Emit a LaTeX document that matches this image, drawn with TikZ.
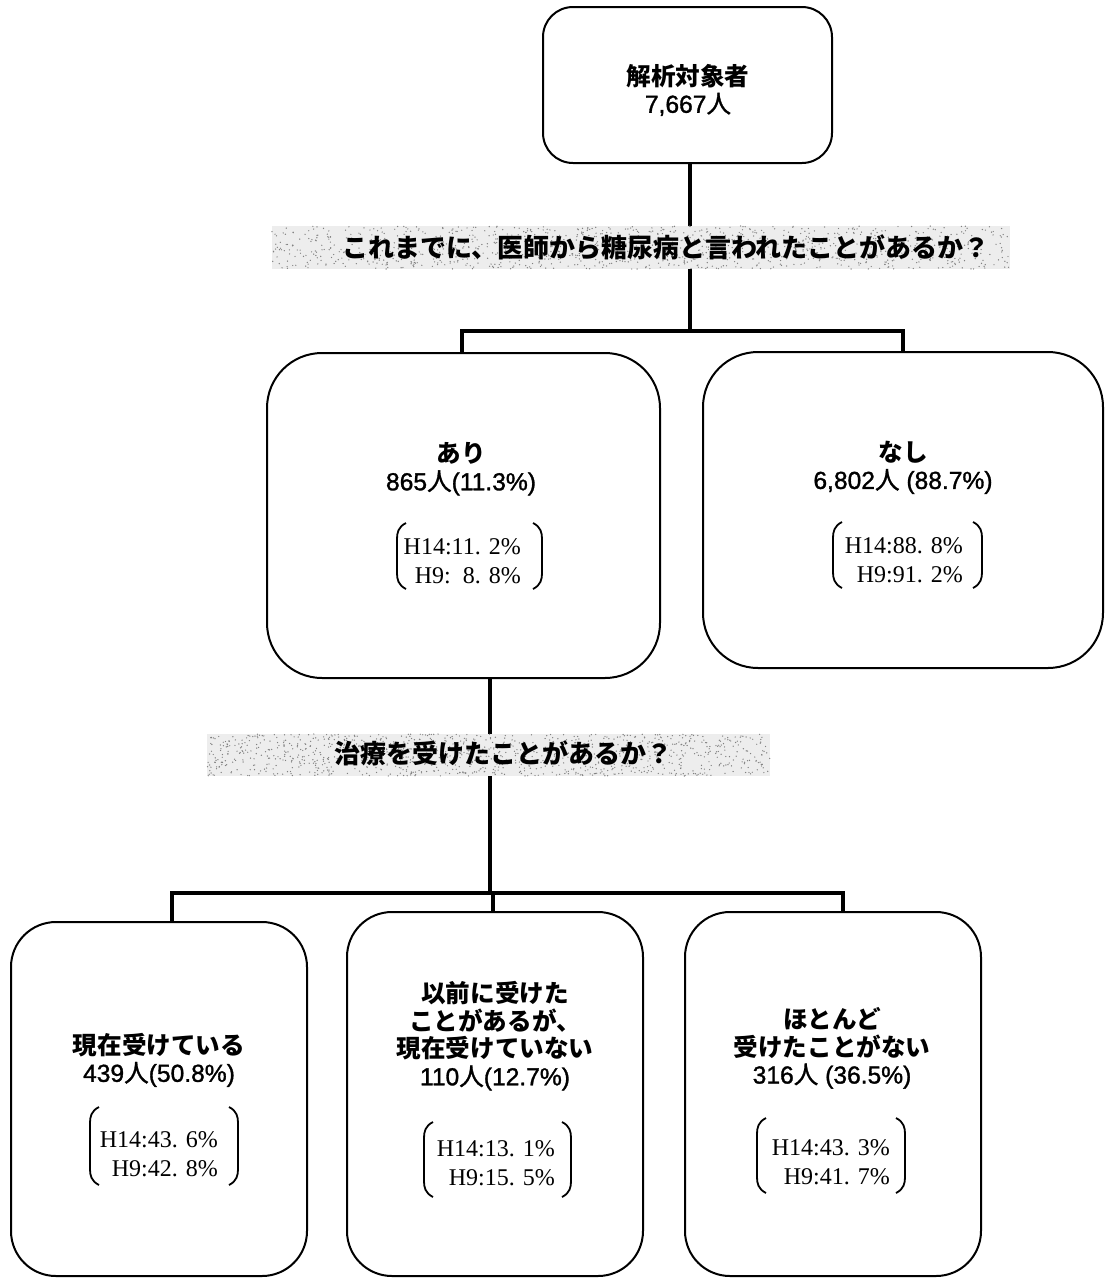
\documentclass[tikz,border=0pt]{standalone}
\usepackage{fontspec}
\newfontfamily\jp{Noto Sans CJK JP}
\newfontfamily\jpm{Noto Sans CJK JP}[FakeBold=1.3]
\newfontfamily\lat{Liberation Sans}[FakeBold=1.3]
\newfontfamily\ser{Liberation Serif}
\newcommand\nm[1]{{\lat\mdseries #1}}
\newcommand\ppl{{\jpm\mdseries 人}}
\newcommand\brk[4]{%
 \draw[brkline] (#1+9,#3) .. controls (#1+1,#3+4) and (#1,#3+10) .. (#1,#3+16) -- (#1,#4-16) .. controls (#1,#4-10) and (#1+1,#4-4) .. (#1+9,#4);
 \draw[brkline] (#2-9,#3) .. controls (#2-1,#3+4) and (#2,#3+10) .. (#2,#3+16) -- (#2,#4-16) .. controls (#2,#4-10) and (#2-1,#4-4) .. (#2-9,#4);}
\newcommand\band[4]{%
 \fill[black!7] (#1,#3) rectangle (#2,#4);
 \foreach \i in {1,...,1100}{\pgfmathsetmacro\xx{#1+(#2-#1)*rnd}\pgfmathsetmacro\yy{#3+(#4-#3)*rnd}\fill[black!50] (\xx,\yy) circle (0.7);}}
\begin{document}
\begin{tikzpicture}[x=1pt,y=-1pt,
  rbox/.style={draw, line width=2pt, inner sep=0pt},
  conn/.style={line width=3.5pt},
  brkline/.style={line width=1.8pt},
  lbl/.style={font=\jp\bfseries\fontsize{24.6}{27.5}\selectfont, align=center, inner sep=0pt},
  qlbl/.style={font=\jp\bfseries\fontsize{26}{30}\selectfont, inner sep=0pt},
  pct/.style={font=\ser\fontsize{24}{29.5}\selectfont, align=right, inner sep=0pt, anchor=east}]
\useasboundingbox (0,0) rectangle (1105,1278);
\fill[white] (0,0) rectangle (1105,1278);
% boxes
\node[rbox, rounded corners=30, minimum width=289, minimum height=156] (top) at (687.5,85) {};
\node[rbox, rounded corners=55, minimum width=393, minimum height=325] (yes) at (463.5,515.5) {};
\node[rbox, rounded corners=55, minimum width=400, minimum height=316] (no) at (903,510) {};
\node[rbox, rounded corners=45, minimum width=296, minimum height=354] (b1) at (159,1099) {};
\node[rbox, rounded corners=45, minimum width=296, minimum height=364] (b2) at (495,1094) {};
\node[rbox, rounded corners=45, minimum width=296, minimum height=364] (b3) at (833,1094) {};
% junctions
\coordinate (j1) at (690,331);
\coordinate (j1L) at (462,331);
\coordinate (j1R) at (903,331);
\coordinate (j2) at (490,893);
\coordinate (j2L) at (172,893);
\coordinate (j2M) at (493,893);
\coordinate (j2R) at (843,893);
% connectors
\draw[conn] (top.south -| j1) -- (j1);
\draw[conn] ([xshift=-1.75pt]j1L) -- ([xshift=1.75pt]j1R);
\draw[conn] (j1L) -- (yes.north -| j1L);
\draw[conn] (j1R) -- (no.north -| j1R);
\draw[conn] (yes.south -| j2) -- (j2);
\draw[conn] ([xshift=-1.75pt]j2L) -- ([xshift=1.75pt]j2R);
\draw[conn] (j2L) -- (b1.north -| j2L);
\draw[conn] (j2M) -- (b2.north -| j2M);
\draw[conn] (j2R) -- (b3.north -| j2R);
% question bands
\pgfmathsetseed{7}
\band{272}{1010}{226}{269}
\band{207}{770}{734}{776}
\node[qlbl] (q1) at (666,247) {これまでに、医師から糖尿病と言われたことがあるか？};
\node[qlbl] (q2) at (503,753) {治療を受けたことがあるか？};
% texts
\node[lbl] (toptext) at (688,90) {解析対象者\\\nm{7,667}\ppl};
\node[lbl] (yestext) at (461,469) {あり\\\nm{865}\ppl\nm{(11.3\%)}};
\node[lbl] (notext) at (903,467.5) {なし\\\nm{6,802}\ppl\nm{ (88.7\%)}};
\node[lbl] (b1text) at (159,1060) {現在受けている\\\nm{439}\ppl\nm{(50.8\%)}};
\node[lbl] (b2text) at (495,1036) {以前に受けた\\ことがあるが、\\現在受けていない\\\nm{110}\ppl\nm{(12.7\%)}};
\node[lbl] (b3text) at (832,1048) {ほとんど\\受けたことがない\\\nm{316}\ppl\nm{ (36.5\%)}};
% percentage brackets
\node[pct] (yespct) at (521,561) {H14:11. 2\%\\H9:\ \ 8. 8\%};
\brk{397}{542}{523}{589}
\node[pct] (nopct) at (963,560) {H14:88. 8\%\\H9:91. 2\%};
\brk{833}{982}{522}{588}
\node[pct] (b1pct) at (218,1154) {H14:43. 6\%\\H9:42. 8\%};
\brk{90}{238}{1107}{1185}
\node[pct] (b2pct) at (555,1163) {H14:13. 1\%\\H9:15. 5\%};
\brk{424}{571}{1122}{1197}
\node[pct] (b3pct) at (890,1162) {H14:43. 3\%\\H9:41. 7\%};
\brk{757}{905}{1118}{1193}
\end{tikzpicture}
\end{document}
